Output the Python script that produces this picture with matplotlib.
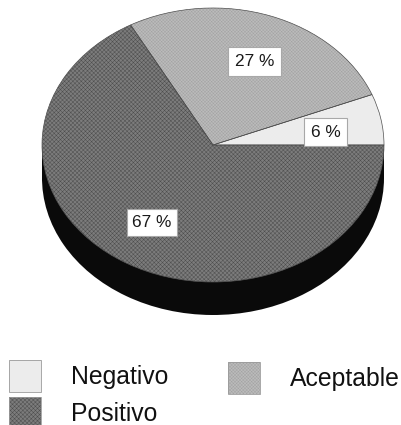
import matplotlib
matplotlib.use("Agg")
import matplotlib.pyplot as plt
from matplotlib.patches import Rectangle

plt.rcParams["font.family"] = ["Liberation Sans", "DejaVu Sans"]
plt.rcParams["hatch.linewidth"] = 0.35

categories = ["Negativo", "Aceptable", "Positivo"]
shares = [6, 27, 67]
colors = ["#ececec", "#bcbcbc", "#7c7c7c"]
hatches = ["", "xxxxxxxxxx", "xxxxxxxx"]
hatch_colors = ["#ececec", "#a4a4a4", "#4e4e4e"]

W, H = 402, 425
CX, CY, RX, RY, DEPTH = 213, 145, 171, 137, 33

fig = plt.figure(figsize=(W / 100, H / 100), dpi=100, facecolor="white")
ax = fig.add_axes([0, 0, 1, 1])

# Extruded wall: a black pie shifted down, bridged by a black band
dy = DEPTH / RY
ax.pie(shares, radius=1, center=(0, -dy), startangle=0, counterclock=True,
       colors=["#0a0a0a"] * 3, wedgeprops=dict(linewidth=0))
ax.add_patch(Rectangle((-1, -dy), 2, dy, facecolor="#0a0a0a", edgecolor="none", zorder=0.5))

# Top face with stippled shading
wedges, _ = ax.pie(shares, radius=1, center=(0, 0), startangle=0, counterclock=True,
                   colors=colors, wedgeprops=dict(linewidth=0))
for wedge, hatch, hatch_color in zip(wedges, hatches, hatch_colors):
    wedge.set_hatch(hatch)
    wedge.set_edgecolor(hatch_color)
    wedge.set_linewidth(0)

# Thin outline around each slice
ax.pie(shares, radius=1, center=(0, 0), startangle=0, counterclock=True,
       colors=["none"] * 3, wedgeprops=dict(linewidth=0.5, edgecolor="#505050"))

ax.set_aspect("auto")
ax.set_xlim(-CX / RX, (W - CX) / RX)
ax.set_ylim(-(H - CY) / RY, CY / RY)
ax.axis("off")


def px(x, y):
    return x / W, 1 - y / H


# Percentage labels in boxed tags
label_boxes = [(304, 118, 43, 28), (228, 47, 53, 29), (127, 209, 50, 27)]
for value, (x, y, w, h) in zip(shares, label_boxes):
    fig.patches.append(Rectangle(px(x, y + h), w / W, h / H, transform=fig.transFigure,
                                 facecolor="white", edgecolor="#a8a8a8", linewidth=0.8, zorder=5))
    fig.text(*px(x + w / 2, y + h / 2 + 0.5), f"{value} %", ha="center", va="center",
             fontsize=12.4, color="#1a1a1a", zorder=6)

# Legend laid out by hand: two entries on the left, one on the right
legend_swatches = [(9, 360, 32), (228, 362, 32), (9, 397, 28)]
legend_text = [(71, 377), (290, 379), (71, 414)]
for idx, ((x, y, h), (tx, ty)) in enumerate(zip(legend_swatches, legend_text)):
    fig.patches.append(Rectangle(px(x, y + h), 32 / W, h / H, transform=fig.transFigure,
                                 facecolor=colors[idx], edgecolor=hatch_colors[idx],
                                 hatch=hatches[idx], linewidth=0, zorder=5))
    fig.patches.append(Rectangle(px(x, y + h), 32 / W, h / H, transform=fig.transFigure,
                                 facecolor="none", edgecolor="#9a9a9a", linewidth=0.6, zorder=5))
    fig.text(*px(tx, ty), categories[idx], ha="left", va="center", fontsize=17.8,
             color="#111111", zorder=6)

fig.savefig("out.png", dpi=100, facecolor="white")
